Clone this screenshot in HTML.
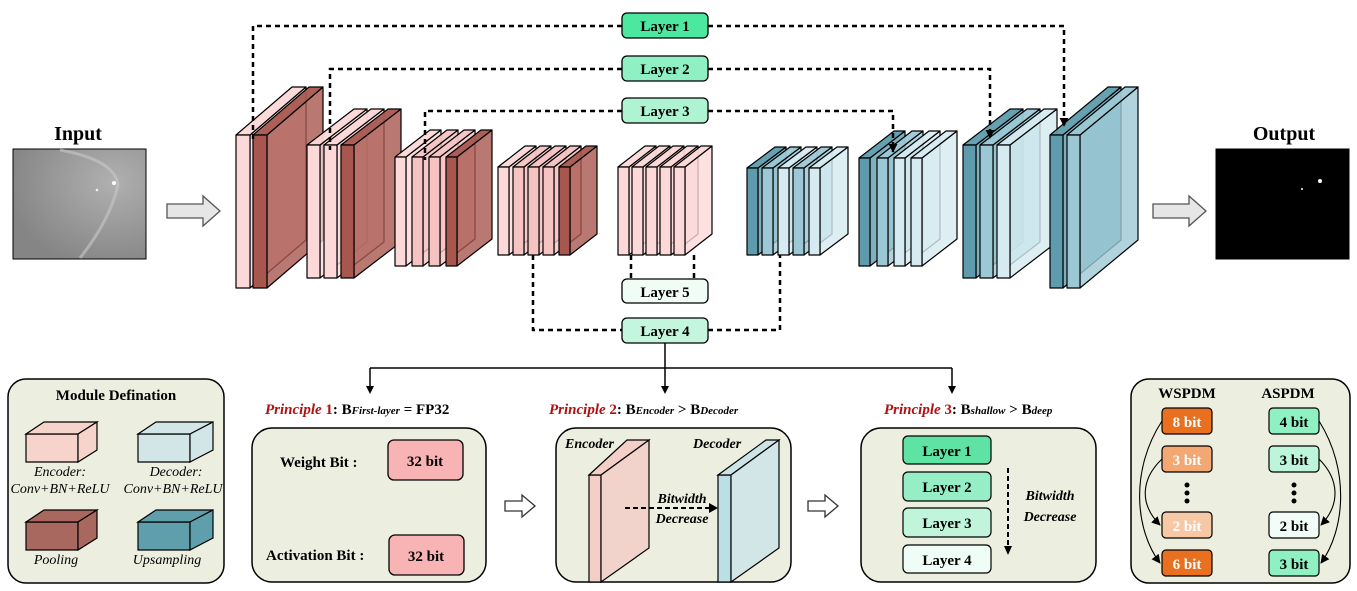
<!DOCTYPE html>
<html><head><meta charset="utf-8"><style>
body{margin:0;background:#fff}
svg{display:block}
text{font-family:"Liberation Serif",serif;font-weight:bold}
</style></head><body>
<svg width="1357" height="591" viewBox="0 0 1357 591" xmlns="http://www.w3.org/2000/svg">
<defs>
<marker id="ad" viewBox="0 0 10 10" refX="9" refY="5" markerWidth="9" markerHeight="9" orient="auto" markerUnits="userSpaceOnUse"><path d="M0,0 L10,5 L0,10z" fill="#000"/></marker>
</defs>
<g id="net" stroke="#000" stroke-width="1.2" stroke-linejoin="round"></g>

<g fill="none" stroke="#000" stroke-width="2.5" stroke-dasharray="5,4">
<path d="M622,26 H253 V140"/>
<path d="M708,26 H1064 V126" marker-end="url(#ad)"/>
<path d="M622,69 H330 V150"/>
<path d="M708,69 H990 V138" marker-end="url(#ad)"/>
<path d="M622,111 H425 V160"/>
<path d="M708,111 H893 V152" marker-end="url(#ad)"/>
<path d="M631,255 V279"/><path d="M694,255 V279"/>
<path d="M533,255 V330 H622"/><path d="M708,330 H780 V255"/>
</g>
<g stroke="#000" stroke-width="1.3">
<rect x="622" y="13" width="86" height="25" rx="5" fill="#4de8a0"/>
<rect x="622" y="56" width="86" height="25" rx="5" fill="#8ef0c3"/>
<rect x="622" y="98" width="86" height="25" rx="5" fill="#aef4d3"/>
<rect x="622" y="279" width="86" height="24" rx="5" fill="#effdf6"/>
<rect x="622" y="318" width="86" height="25" rx="5" fill="#c4f6de"/>
</g>
<g font-size="15" text-anchor="middle">
<text x="665" y="31">Layer 1</text><text x="665" y="74">Layer 2</text><text x="665" y="116">Layer 3</text>
<text x="665" y="297">Layer 5</text><text x="665" y="336">Layer 4</text>
</g>
<g stroke="#000" stroke-width="1.5" fill="none">
<path d="M665,343 V388"/><path d="M370,368 H952"/><path d="M370,368 V388"/><path d="M952,368 V388"/>
</g>
<path d="M366,386 L374,386 L370,394z M661,386 L669,386 L665,394z M948,386 L956,386 L952,394z" fill="#000"/>

<text x="78" y="140" font-size="20" text-anchor="middle">Input</text>
<defs><radialGradient id="ig" cx="0.75" cy="0.3" r="0.8"><stop offset="0" stop-color="#b0b0b0"/><stop offset="1" stop-color="#858585"/></radialGradient></defs>
<rect x="13" y="149" width="133" height="110" fill="url(#ig)" stroke="#000"/>
<path d="M60,150 Q115,160 118,185 Q110,220 80,258" fill="none" stroke="#c8c8c8" stroke-width="3" opacity="0.6"/>
<circle cx="114" cy="183" r="2" fill="#fff"/><circle cx="97" cy="190" r="1.3" fill="#eee"/>
<text x="1284" y="140" font-size="20" text-anchor="middle">Output</text>
<rect x="1216" y="149" width="133" height="110" fill="#000" stroke="#000"/>
<circle cx="1320" cy="181" r="2" fill="#fff"/><circle cx="1302" cy="189" r="1" fill="#fff"/>
<g fill="#e6e6e6" stroke="#555" stroke-width="1.3">
<path d="M167,204 H203 V196 L220,211 L203,226 V218 H167z"/>
<path d="M1153,204 H1189 V196 L1206,211 L1189,226 V218 H1153z"/>
</g>

<g stroke="#000" stroke-width="1.5" fill="#ecefdf">
<rect x="8" y="379" width="216" height="204" rx="18"/>
<rect x="252" y="428" width="234" height="154" rx="20"/>
<rect x="556" y="428" width="235" height="154" rx="20"/>
<rect x="861" y="428" width="235" height="154" rx="20"/>
<rect x="1131" y="379" width="219" height="204" rx="18"/>
</g>
<text x="116" y="400" font-size="15" text-anchor="middle">Module Defination</text>
<g stroke="#000" stroke-width="1.2">
<path d="M26,434 H78 V462 H26z" fill="#f6d4cc"/><path d="M26,434 L44,422 H97 L78,434z" fill="#f6d4cc"/><path d="M78,434 L97,422 V450 L78,462z" fill="#f6d4cc"/>
<path d="M138,434 H190 V462 H138z" fill="#d3e6e7"/><path d="M138,434 L156,422 H213 L190,434z" fill="#d3e6e7"/><path d="M190,434 L213,422 V450 L190,462z" fill="#d3e6e7"/>
<path d="M26,522 H78 V550 H26z" fill="#a8675f"/><path d="M26,522 L44,510 H97 L78,522z" fill="#a8675f"/><path d="M78,522 L97,510 V538 L78,550z" fill="#a8675f"/>
<path d="M138,522 H190 V550 H138z" fill="#5f9fac"/><path d="M138,522 L156,510 H213 L190,522z" fill="#5f9fac"/><path d="M190,522 L213,510 V538 L190,550z" fill="#5f9fac"/>
</g>
<g font-style="italic" font-size="14" text-anchor="middle">
<text x="60" y="476" style="font-weight:normal">Encoder:</text><text x="60" y="493" style="font-weight:normal">Conv+BN+ReLU</text>
<text x="176" y="476" style="font-weight:normal">Decoder:</text><text x="173" y="493" style="font-weight:normal">Conv+BN+ReLU</text>
<text x="56" y="564" style="font-weight:normal">Pooling</text><text x="167" y="564" style="font-weight:normal">Upsampling</text>
</g>

<text x="265" y="414" font-size="15"><tspan fill="#b01010" font-style="italic">Principle</tspan><tspan fill="#b01010"> 1</tspan>: B<tspan font-size="11" font-style="italic">First-layer</tspan> = FP32</text>
<text x="549" y="414" font-size="15"><tspan fill="#b01010" font-style="italic">Principle</tspan><tspan fill="#b01010"> 2</tspan>: B<tspan font-size="11" font-style="italic">Encoder</tspan> &gt; B<tspan font-size="11" font-style="italic">Decoder</tspan></text>
<text x="884" y="414" font-size="15"><tspan fill="#b01010" font-style="italic">Principle</tspan><tspan fill="#b01010"> 3</tspan>: B<tspan font-size="11" font-style="italic">shallow</tspan> &gt; B<tspan font-size="11" font-style="italic">deep</tspan></text>

<text x="280" y="467" font-size="15">Weight Bit :</text>
<text x="266" y="560" font-size="15">Activation Bit :</text>
<g stroke="#000" stroke-width="1.3" fill="#f8b4b4">
<rect x="388" y="440" width="75" height="40" rx="6"/><rect x="389" y="535" width="75" height="40" rx="6"/>
</g>
<text x="425" y="466" font-size="15" text-anchor="middle">32 bit</text>
<text x="426" y="561" font-size="15" text-anchor="middle">32 bit</text>
<g fill="#fff" stroke="#333" stroke-width="1.3">
<path d="M505,501 H522 V495 L535,506 L522,517 V511 H505z"/>
<path d="M808,501 H825 V495 L838,506 L825,517 V511 H808z"/>
</g>

<g stroke="#000" stroke-width="1.2">
<path d="M589,475 H601 V582 H589z" fill="#f3cfc8"/>
<path d="M589,475 L627,440 H649 L601,475z" fill="#f3cfc8"/>
<path d="M601,475 L649,440 V548 L601,582z" fill="#f2d3cc"/>
<path d="M718,475 H731 V582 H718z" fill="#bcdfe5"/>
<path d="M718,475 L766,440 H779 L731,475z" fill="#cde4e6"/>
<path d="M731,475 L779,440 V548 L731,582z" fill="#d3e6e7"/>
</g>
<text x="565" y="448" font-size="14" font-style="italic">Encoder</text>
<text x="693" y="448" font-size="14" font-style="italic">Decoder</text>
<path d="M625,508 H710" stroke="#000" stroke-width="2" stroke-dasharray="5,3"/>
<path d="M709,503 L718,508 L709,513z" fill="#000"/>
<text x="682" y="503" font-size="14" font-style="italic" text-anchor="middle">Bitwidth</text>
<text x="682" y="523" font-size="14" font-style="italic" text-anchor="middle">Decrease</text>

<g stroke="#000" stroke-width="1.2">
<rect x="903" y="436" width="88" height="28" rx="5" fill="#5ee3a4"/>
<rect x="903" y="472" width="88" height="29" rx="5" fill="#95eec5"/>
<rect x="903" y="508" width="88" height="29" rx="5" fill="#c0f5dc"/>
<rect x="903" y="545" width="88" height="28" rx="5" fill="#effdf6"/>
</g>
<g font-size="15" text-anchor="middle">
<text x="947" y="456">Layer 1</text><text x="947" y="492">Layer 2</text><text x="947" y="528">Layer 3</text><text x="947" y="565">Layer 4</text>
</g>
<path d="M1008,468 V548" stroke="#000" stroke-width="2" stroke-dasharray="5,3"/>
<path d="M1004,546 L1008,555 L1012,546z" fill="#000"/>
<text x="1050" y="500" font-size="14" font-style="italic" text-anchor="middle">Bitwidth</text>
<text x="1050" y="521" font-size="14" font-style="italic" text-anchor="middle">Decrease</text>

<text x="1187" y="398" font-size="15" text-anchor="middle">WSPDM</text>
<text x="1288" y="398" font-size="15" text-anchor="middle">ASPDM</text>
<g stroke="#000" stroke-width="1.2">
<rect x="1162" y="408" width="50" height="26" rx="4" fill="#e8701e"/>
<rect x="1162" y="446" width="50" height="26" rx="4" fill="#f3a772"/>
<rect x="1162" y="512" width="50" height="26" rx="4" fill="#f7c8a4"/>
<rect x="1162" y="550" width="50" height="26" rx="4" fill="#e8701e"/>
<rect x="1269" y="408" width="50" height="26" rx="4" fill="#8ff0c2"/>
<rect x="1269" y="446" width="50" height="26" rx="4" fill="#bdf5da"/>
<rect x="1269" y="512" width="50" height="26" rx="4" fill="#f2fdf8"/>
<rect x="1269" y="550" width="50" height="26" rx="4" fill="#8ff0c2"/>
</g>
<g font-size="15" text-anchor="middle">
<text x="1187" y="427" fill="#fff">8 bit</text><text x="1187" y="465" fill="#fff">3 bit</text>
<text x="1187" y="531" fill="#fff">2 bit</text><text x="1187" y="569" fill="#fff">6 bit</text>
<text x="1294" y="427">4 bit</text><text x="1294" y="465">3 bit</text>
<text x="1294" y="531">2 bit</text><text x="1294" y="569">3 bit</text>
</g>
<g fill="#000"><circle cx="1187" cy="485" r="2.5"/><circle cx="1187" cy="493" r="2.5"/><circle cx="1187" cy="501" r="2.5"/>
<circle cx="1294" cy="485" r="2.5"/><circle cx="1294" cy="493" r="2.5"/><circle cx="1294" cy="501" r="2.5"/></g>
<g fill="none" stroke="#000" stroke-width="1.1">
<path d="M1162,421 C1130,470 1135,530 1160,563" marker-end="url(#ad)"/>
<path d="M1162,459 C1140,480 1140,505 1160,525" marker-end="url(#ad)"/>
<path d="M1319,421 C1350,470 1345,530 1321,563" marker-end="url(#ad)"/>
<path d="M1319,459 C1340,480 1340,505 1321,525" marker-end="url(#ad)"/>
</g>

<script>
(function(){
var g=document.getElementById('net');
var ns='http://www.w3.org/2000/svg';
function poly(pts,fill,op){var p=document.createElementNS(ns,'polygon');p.setAttribute('points',pts.map(function(a){return a.join(',')}).join(' '));p.setAttribute('fill',fill);if(op!=null)p.setAttribute('fill-opacity',op);g.appendChild(p);}
function plate(x,y,w,h,dx,dy,col,side,op){
 poly([[x+w,y],[x+w+dx,y+dy],[x+w+dx,y+h+dy],[x+w,y+h]],side,op);
 poly([[x,y],[x+dx,y+dy],[x+w+dx,y+dy],[x+w,y]],col,0.95);
 poly([[x,y],[x+w,y],[x+w,y+h],[x,y+h]],col,1);
}
var LP='#fcd8d8',MP='#f6c3c3',DP='#a8574f',LT='#d6ebf1',MT='#9cc8d5',DT='#5e9cad';
function blk(xs,y,w,h,dx,dy,cols){xs.forEach(function(x,i){var c=cols[i];plate(x,y,w,h,dx,dy,c,c,0.8);});}
blk([236,253],135,14,153,56,-48,[LP,DP]);
blk([307,324,341],145,13,133,47,-36,[LP,LP,DP]);
blk([395,412,429,446],157,11,109,35,-27,[LP,MP,MP,DP]);
blk([498,513,528,543,559],167,11,88,27,-21,[LP,MP,MP,MP,DP]);
blk([618,632,646,660,674],167,11,88,27,-21,[LP,LP,LP,LP,LP]);
blk([747,762,778,793,809],168,11,87,28,-21,[DT,MT,LT,MT,LT]);
blk([859,877,894,911],158,11,108,35,-27,[DT,MT,LT,LT]);
blk([963,980,997],145,13,133,47,-36,[DT,MT,LT]);
blk([1050,1067],135,13,153,58,-48,[DT,MT]);
})();
</script>
</svg>
</body></html>
